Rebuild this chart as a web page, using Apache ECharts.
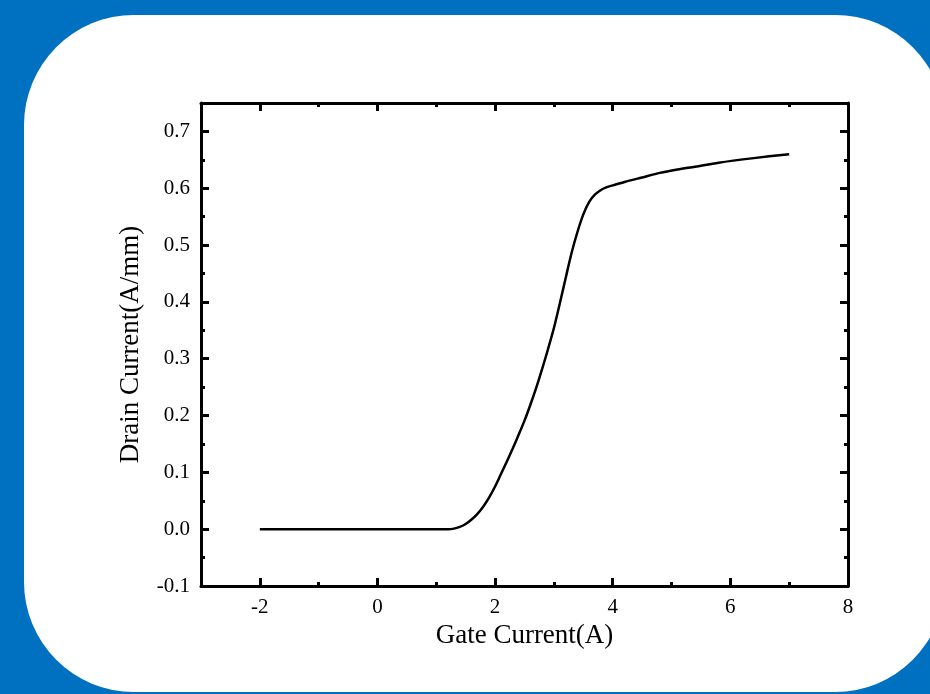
<!DOCTYPE html>
<html>
<head>
<meta charset="utf-8">
<script src="https://cdn.jsdelivr.net/npm/echarts@6/dist/echarts.min.js"></script>
<style>html,body{margin:0;padding:0;background:#0070c0;}#c{width:930px;height:694px;}</style>
</head>
<body>
<div id="c"></div>
<script>
// Data
var gateCurrent = [-2, 1.2, 1.3, 1.4, 1.5, 1.6, 1.7, 1.8, 1.9, 2.0, 2.1, 2.2, 2.3, 2.4, 2.5, 2.6, 2.7, 2.8, 2.9, 3.0, 3.1, 3.2, 3.3, 3.4, 3.5, 3.6, 3.7, 3.8, 3.9, 4.0, 4.2, 4.5, 4.8, 5.1, 5.4, 5.8, 6.4, 7];
var drainCurrent = [0, 0, 0.001, 0.004, 0.009, 0.017, 0.027, 0.04, 0.056, 0.075, 0.097, 0.119, 0.142, 0.166, 0.191, 0.219, 0.249, 0.282, 0.317, 0.354, 0.397, 0.442, 0.486, 0.523, 0.554, 0.576, 0.589, 0.597, 0.602, 0.605, 0.611, 0.619, 0.627, 0.633, 0.638, 0.645, 0.653, 0.66];
var xMajorTicks = [-2, 0, 2, 4, 6, 8];
var xMinorTicks = [-1, 1, 3, 5, 7];
var yMajorTicks = [-0.1, 0, 0.1, 0.2, 0.3, 0.4, 0.5, 0.6, 0.7];
var yMinorTicks = [-0.05, 0.05, 0.15, 0.25, 0.35, 0.45, 0.55, 0.65];
var xName = 'Gate Current(A)';
var yName = 'Drain Current(A/mm)';

var points = gateCurrent.map(function (x, i) { return [x, drainCurrent[i]]; });
var FONT = 'Liberation Serif, Times New Roman, serif';

function xAx(pos, ticks, len, showLine, showLabel) {
  return {
    type: 'value', position: pos, min: -3, max: 8, interval: 1,
    splitLine: {show: false},
    axisLine: {show: showLine, onZero: false, lineStyle: {color: '#000', width: 3}},
    axisTick: {show: true, inside: true, length: len, customValues: ticks, lineStyle: {color: '#000', width: 3}},
    axisLabel: {show: showLabel, customValues: xMajorTicks, margin: 11, color: '#000', fontFamily: FONT, fontSize: 21,
      formatter: function (v) { return String(Math.round(v)); }},
    name: showLabel ? xName : '', nameLocation: 'middle', nameGap: 33,
    nameTextStyle: {color: '#000', fontFamily: FONT, fontSize: 27}
  };
}
function yAx(pos, ticks, len, showLine, showLabel) {
  return {
    type: 'value', position: pos, min: -0.1, max: 0.75, interval: 0.05,
    splitLine: {show: false},
    axisLine: {show: showLine, onZero: false, lineStyle: {color: '#000', width: 3}},
    axisTick: {show: true, inside: true, length: len, customValues: ticks, lineStyle: {color: '#000', width: 3}},
    axisLabel: {show: showLabel, customValues: yMajorTicks, margin: 11, color: '#000', fontFamily: FONT, fontSize: 21,
      formatter: function (v) { return v.toFixed(1); }},
    name: showLabel ? yName : '', nameLocation: 'middle', nameGap: 57, nameRotate: 90,
    nameTextStyle: {color: '#000', fontFamily: FONT, fontSize: 27}
  };
}

var chart = echarts.init(document.getElementById('c'), null, {renderer: 'canvas'});
chart.setOption({
  backgroundColor: '#0070c0',
  animation: false,
  graphic: [{
    type: 'rect', z: -10, silent: true,
    shape: {x: 24, y: 15, width: 921, height: 677, r: 110},
    style: {fill: '#ffffff'}
  }],
  grid: {left: 201, right: 82, top: 103, bottom: 108, containLabel: false},
  xAxis: [
    xAx('bottom', xMajorTicks, 8, true, true),
    xAx('bottom', xMinorTicks, 4, false, false),
    xAx('top', xMajorTicks, 8, true, false),
    xAx('top', xMinorTicks, 4, false, false)
  ],
  yAxis: [
    yAx('left', yMajorTicks, 8, true, true),
    yAx('left', yMinorTicks, 4, false, false),
    yAx('right', yMajorTicks, 8, true, false),
    yAx('right', yMinorTicks, 4, false, false)
  ],
  series: [{
    type: 'line', xAxisIndex: 0, yAxisIndex: 0,
    data: points, showSymbol: false, smooth: 0.3,
    lineStyle: {color: '#000', width: 2.5}
  }]
});
</script>
</body>
</html>
